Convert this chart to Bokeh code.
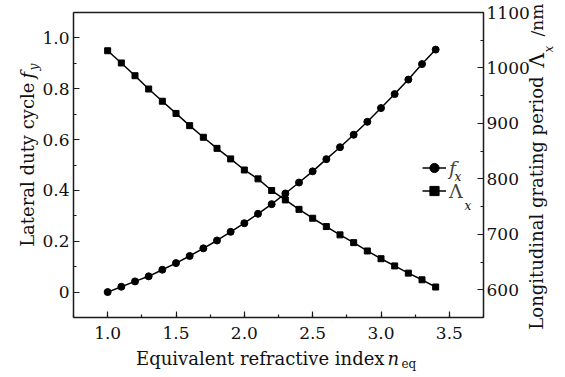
import math
from bokeh.plotting import figure
from bokeh.models import (Range1d, LinearAxis, SingleIntervalTicker, Label,
                          Legend, LegendItem, PrintfTickFormatter)
from bokeh.embed import file_html
from bokeh.resources import INLINE

# ---- data ----
n_eq = [1.0, 1.1, 1.2, 1.3, 1.4, 1.5, 1.6, 1.7, 1.8, 1.9, 2.0, 2.1, 2.2,
        2.3, 2.4, 2.5, 2.6, 2.7, 2.8, 2.9, 3.0, 3.1, 3.2, 3.3, 3.4]
f_x = [0.000, 0.021, 0.042, 0.062, 0.088, 0.114, 0.142, 0.172, 0.203,
       0.237, 0.271, 0.308, 0.346, 0.388, 0.431, 0.475, 0.523, 0.570,
       0.619, 0.670, 0.724, 0.779, 0.836, 0.897, 0.954]
period_x = [1031, 1009, 986, 962, 940, 918, 896, 875, 855, 836, 816, 800,
            779, 762, 745, 729, 714, 699, 685, 670, 656, 643, 630, 618, 605]

# visible axis box (data) and canvas geometry
X0, X1 = 0.75, 3.75
Y0, Y1 = -0.1, 1.1
R0, R1 = 550, 1100
W, H = 565, 377
BOX_L, BOX_R, BOX_T, BOX_B = 73, 483, 12, 317   # pixel edges of the axis box

def extend(lo, hi, a, b, total):
    per = (hi - lo) / (b - a)
    return lo - a * per, hi + (total - b) * per

xr = extend(X0, X1, BOX_L, BOX_R, W)
yr_full = extend(Y0, Y1, H - BOX_B, H - BOX_T, H)
rr_full = extend(R0, R1, H - BOX_B, H - BOX_T, H)

FONT = "DejaVu Serif"
TICK_PX = "17px"
LABEL_PX = "18px"
SUB_PX = "12px"
INK = "#1a1a1a"

p = figure(width=W, height=H, output_backend="svg", toolbar_location=None,
           x_range=Range1d(*xr), y_range=Range1d(*yr_full),
           min_border=0, x_axis_location=None, y_axis_location=None)
p.extra_y_ranges = {"r": Range1d(*rr_full)}
p.grid.visible = False
p.outline_line_color = None
p.background_fill_color = "white"
p.border_fill_color = "white"

xaxis = LinearAxis(fixed_location=Y0, bounds=(X0, X1),
                   ticker=SingleIntervalTicker(interval=0.5, num_minor_ticks=2),
                   formatter=PrintfTickFormatter(format="%.1f"))
yaxis = LinearAxis(fixed_location=X0, bounds=(Y0, Y1),
                   ticker=SingleIntervalTicker(interval=0.2, num_minor_ticks=2),
                   formatter=PrintfTickFormatter(format="%.1f"))
yaxis.major_label_overrides = {0: "0"}
raxis = LinearAxis(y_range_name="r", fixed_location=X1, bounds=(R0, R1),
                   ticker=SingleIntervalTicker(interval=100, num_minor_ticks=2))
taxis = LinearAxis(fixed_location=Y1, bounds=(X0, X1),
                   ticker=SingleIntervalTicker(interval=0.5, num_minor_ticks=2))
p.add_layout(xaxis, "below")
p.add_layout(yaxis, "left")
p.add_layout(raxis, "right")
p.add_layout(taxis, "above")

for ax in [xaxis, yaxis, raxis, taxis]:
    ax.axis_line_color = INK
    ax.axis_line_width = 1.5
    ax.major_tick_in = 6
    ax.major_tick_out = 0
    ax.minor_tick_in = 3
    ax.minor_tick_out = 0
    ax.major_tick_line_color = INK
    ax.minor_tick_line_color = INK
    ax.major_tick_line_width = 1.2
    ax.minor_tick_line_width = 1.2
    ax.major_label_text_font = FONT
    ax.major_label_text_font_size = TICK_PX
    ax.major_label_text_color = "#111111"
xaxis.major_label_standoff = 9
yaxis.major_label_standoff = 4
raxis.major_label_standoff = 3
taxis.major_tick_line_color = None
taxis.minor_tick_line_color = None
taxis.major_label_text_alpha = 0

# ---- series ----
l1 = p.line(n_eq, f_x, line_color="black", line_width=1.5)
c1 = p.scatter(n_eq, f_x, marker="circle", size=7, fill_color="black",
               line_color="black")
l2 = p.line(n_eq, period_x, y_range_name="r", line_color="black", line_width=1.5)
c2 = p.scatter(n_eq, period_x, y_range_name="r", marker="square", size=6,
               fill_color="black", line_color="black")

# ---- legends ----
common = dict(label_text_font=FONT, label_text_font_size="19px",
              glyph_width=24, glyph_height=23, label_height=23,
              label_standoff=3, padding=0, margin=0, spacing=0,
              border_line_alpha=0, background_fill_alpha=0)
leg1 = Legend(items=[LegendItem(label="f", renderers=[l1, c1])],
              location=(422, 198), label_text_font_style="italic", **common)
leg2 = Legend(items=[LegendItem(label="Λ", renderers=[l2, c2])],
              location=(422, 175), **common)
p.add_layout(leg1)
p.add_layout(leg2)

def lab(text, xo, yo, size=LABEL_PX, style="normal", align="left",
        angle=0.0, anchor_x=X0):
    # anchored at the lower corner of the axis box, offset in pixels
    p.add_layout(Label(x=anchor_x, y=Y0, x_offset=xo, y_offset=yo, text=text,
                       text_font=FONT, text_font_size=size,
                       text_font_style=style, text_align=align,
                       text_baseline="alphabetic", angle=angle,
                       text_color="#111111"))

# legend subscripts
lab("x", 381, 141, size=SUB_PX, style="italic")
lab("x", 391, 112, size=SUB_PX, style="italic")

# x-axis label
lab("Equivalent refractive index", 311, -41, align="right")
lab("n", 314, -41, style="italic")
lab("eq", 328, -46, size=SUB_PX)

# left axis label (rotated)
up = math.pi / 2
lab("Lateral duty cycle", -46, 235, align="right", angle=up)
lab("f", -46, 239, style="italic", angle=up)
lab("y", -40, 247, size=SUB_PX, style="italic", angle=up)

# right axis label (rotated)
lab("Longitudinal grating period", 53, 241, align="right", angle=up, anchor_x=X1)
lab("Λ", 53, 250, size="20px", angle=up, anchor_x=X1)
lab("x", 65, 265, size=SUB_PX, style="italic", angle=up, anchor_x=X1)
lab("/nm", 53, 281, size="17px", angle=up, anchor_x=X1)

open("out.html", "w").write(file_html(p, INLINE))
